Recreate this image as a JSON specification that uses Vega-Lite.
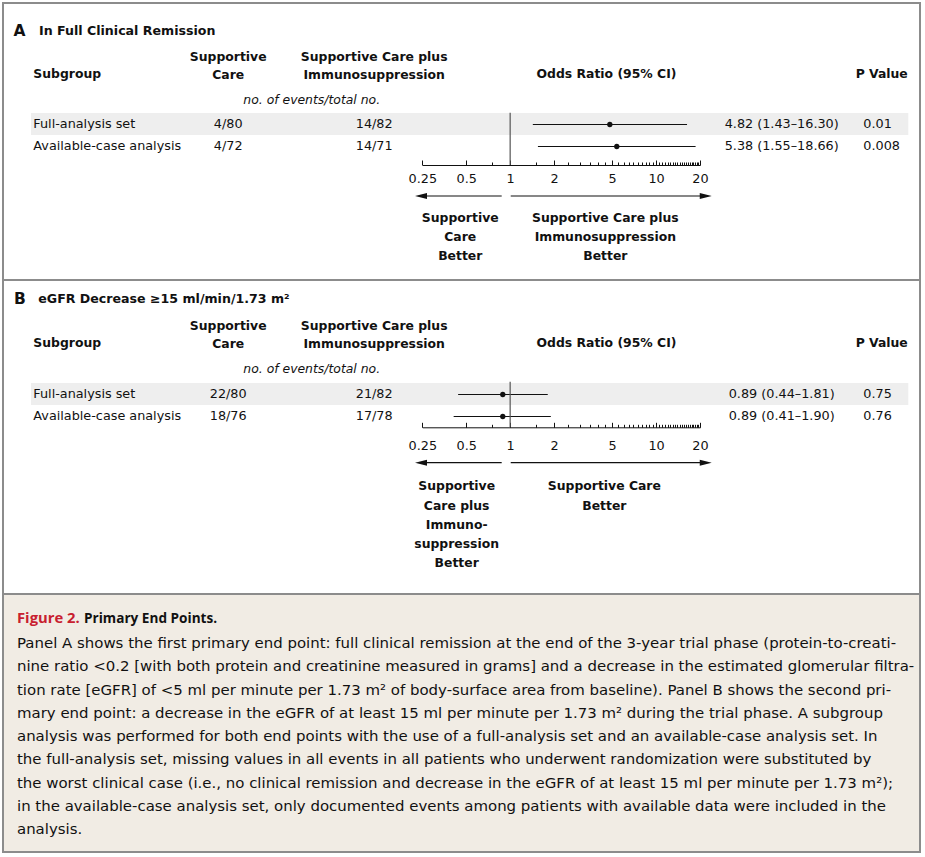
{
  "$schema": "https://vega.github.io/schema/vega-lite/v6.json",
  "padding": {"left": 2, "top": 2, "right": 2, "bottom": 2},
  "background": "white",
  "spacing": 0,
  "bounds": "flush",
  "config": {
    "view": {"stroke": "#8c8c8c", "strokeWidth": 2},
    "text": {"font": "DejaVu Sans", "fontSize": 12.8, "color": "#111111"}
  },
  "datasets": {
    "results": [
      {"panel": "A", "subgroup": "Full-analysis set", "sc": "4/80", "sci": "14/82", "or": 4.82, "lo": 1.43, "hi": 16.30, "ci": "4.82 (1.43–16.30)", "p": "0.01"},
      {"panel": "A", "subgroup": "Available-case analysis", "sc": "4/72", "sci": "14/71", "or": 5.38, "lo": 1.55, "hi": 18.66, "ci": "5.38 (1.55–18.66)", "p": "0.008"},
      {"panel": "B", "subgroup": "Full-analysis set", "sc": "22/80", "sci": "21/82", "or": 0.89, "lo": 0.44, "hi": 1.81, "ci": "0.89 (0.44–1.81)", "p": "0.75"},
      {"panel": "B", "subgroup": "Available-case analysis", "sc": "18/76", "sci": "17/78", "or": 0.89, "lo": 0.41, "hi": 1.90, "ci": "0.89 (0.41–1.90)", "p": "0.76"}
    ],
    "labels": [
      {"panel": "A", "role": "letter", "text": "A"},
      {"panel": "A", "role": "title", "text": "In Full Clinical Remission"},
      {"panel": "A", "role": "head_subgroup", "text": "Subgroup"},
      {"panel": "A", "role": "head_sc", "text": ["Supportive", "Care"]},
      {"panel": "A", "role": "head_sci", "text": ["Supportive Care plus", "Immunosuppression"]},
      {"panel": "A", "role": "head_or", "text": "Odds Ratio (95% CI)"},
      {"panel": "A", "role": "head_p", "text": "P Value"},
      {"panel": "A", "role": "note", "text": "no. of events/total no."},
      {"panel": "A", "role": "better_left", "text": ["Supportive", "Care", "Better"]},
      {"panel": "A", "role": "better_right", "text": ["Supportive Care plus", "Immunosuppression", "Better"]},
      {"panel": "B", "role": "letter", "text": "B"},
      {"panel": "B", "role": "title", "text": "eGFR Decrease ≥15 ml/min/1.73 m²"},
      {"panel": "B", "role": "head_subgroup", "text": "Subgroup"},
      {"panel": "B", "role": "head_sc", "text": ["Supportive", "Care"]},
      {"panel": "B", "role": "head_sci", "text": ["Supportive Care plus", "Immunosuppression"]},
      {"panel": "B", "role": "head_or", "text": "Odds Ratio (95% CI)"},
      {"panel": "B", "role": "head_p", "text": "P Value"},
      {"panel": "B", "role": "note", "text": "no. of events/total no."},
      {"panel": "B", "role": "better_left", "text": ["Supportive", "Care plus", "Immuno-", "suppression", "Better"]},
      {"panel": "B", "role": "better_right", "text": ["Supportive Care", "Better"]},
      {"panel": "C", "role": "fig", "text": "Figure 2."},
      {"panel": "C", "role": "cap_title", "text": "Primary End Points."},
      {"panel": "C", "role": "body", "text": [
        "Panel A shows the first primary end point: full clinical remission at the end of the 3-year trial phase (protein-to-creati-",
        "nine ratio <0.2 [with both protein and creatinine measured in grams] and a decrease in the estimated glomerular filtra-",
        "tion rate [eGFR] of <5 ml per minute per 1.73 m² of body-surface area from baseline). Panel B shows the second pri-",
        "mary end point: a decrease in the eGFR of at least 15 ml per minute per 1.73 m² during the trial phase. A subgroup",
        "analysis was performed for both end points with the use of a full-analysis set and an available-case analysis set. In",
        "the full-analysis set, missing values in all events in all patients who underwent randomization were substituted by",
        "the worst clinical case (i.e., no clinical remission and decrease in the eGFR of at least 15 ml per minute per 1.73 m²);",
        "in the available-case analysis set, only documented events among patients with available data were included in the",
        "analysis."
      ]}
    ]
  },
  "vconcat": [
    {
      "width": 917, "height": 277,
      "resolve": {"scale": {"x": "independent", "y": "independent"}},
      "layer": [
        {
          "data": {"name": "results"},
          "transform": [{"filter": "datum.panel === 'A'"}],
          "encoding": {"y": {"field": "subgroup", "type": "nominal", "sort": null, "scale": {"domain": ["Full-analysis set", "Available-case analysis"], "range": [110, 154], "paddingInner": 0, "paddingOuter": 0}, "axis": null}},
          "layer": [
            {"transform": [{"filter": "datum.subgroup === 'Full-analysis set'"}], "mark": {"type": "rect", "color": "#eeeeee"}, "encoding": {"x": {"datum": 2, "type": "quantitative", "scale": {"type": "linear", "domain": [1,2,3,4,5,6,7,8,9,10,11,12], "range": [10.5,28,30.3,36,225.2,308.7,371.2,603.5,778.7,860.3,878.7,905.3], "nice": false, "zero": false}, "axis": null}, "x2": {"datum": 12}}},
            {"mark": {"type": "text", "align": "left"}, "encoding": {"x": {"datum": 3, "type": "quantitative", "axis": null}, "text": {"field": "subgroup"}}},
            {"mark": {"type": "text", "align": "center"}, "encoding": {"x": {"datum": 5, "type": "quantitative", "axis": null}, "text": {"field": "sc"}}},
            {"mark": {"type": "text", "align": "center"}, "encoding": {"x": {"datum": 7, "type": "quantitative", "axis": null}, "text": {"field": "sci"}}},
            {"mark": {"type": "text", "align": "center"}, "encoding": {"x": {"datum": 9, "type": "quantitative", "axis": null}, "text": {"field": "ci"}}},
            {"mark": {"type": "text", "align": "left"}, "encoding": {"x": {"datum": 10, "type": "quantitative", "axis": null}, "text": {"field": "p"}}}
          ]
        },
        {
          "data": {"name": "results"},
          "transform": [{"filter": "datum.panel === 'A'"}],
          "encoding": {"y": {"field": "subgroup", "type": "nominal", "sort": null, "scale": {"domain": ["Full-analysis set", "Available-case analysis"], "range": [110.5, 154.5], "paddingInner": 0, "paddingOuter": 0}, "axis": null}},
          "layer": [
            {"mark": {"type": "rule", "color": "#111111", "strokeWidth": 1}, "encoding": {"x": {"field": "lo", "type": "quantitative", "scale": {"type": "log", "domain": [0.25, 20], "range": [419.3, 697], "nice": false}, "axis": {"orient": "bottom", "offset": -115, "values": [0.25, 0.5, 1, 2, 5, 10, 20], "format": "~g", "tickSize": -5, "labelPadding": 12, "domainColor": "#111111", "domainWidth": 1, "tickColor": "#111111", "tickWidth": 1, "labelColor": "#111111", "labelFont": "DejaVu Sans", "labelFontSize": 12.8, "labelFlush": false, "labelOverlap": false, "labelBound": false, "grid": false, "title": null}}, "x2": {"field": "hi"}}},
            {"mark": {"type": "point", "shape": "circle", "filled": true, "size": 28, "color": "#111111", "opacity": 1}, "encoding": {"x": {"field": "or", "type": "quantitative"}}}
          ]
        },
        {
          "data": {"name": "labels"},
          "transform": [{"filter": "datum.panel === 'A'"}],
          "encoding": {
            "y": {"datum": 1, "type": "quantitative", "scale": {"type": "linear", "domain": [1,2,3,4,5,6,7,8], "range": [27.7,47.5,71,97,109.7,162,193,208.6], "nice": false, "zero": false}, "axis": null},
            "x": {"datum": 1, "type": "quantitative", "scale": {"type": "linear", "domain": [1,2,3,4,5,6,7,8,9,10,11,12], "range": [10.5,28,30.3,36,225.2,308.7,371.2,603.5,778.7,860.3,878.7,905.3], "nice": false, "zero": false}, "axis": null},
            "text": {"field": "text"}
          },
          "layer": [
            {"transform": [{"filter": "datum.role === 'letter'"}], "mark": {"type": "text", "align": "left", "fontWeight": "bold", "fontSize": 15.5}},
            {"transform": [{"filter": "datum.role === 'title'"}], "mark": {"type": "text", "align": "left", "fontWeight": "bold", "fontSize": 12.6}, "encoding": {"x": {"datum": 4, "type": "quantitative", "axis": null}}},
            {"transform": [{"filter": "datum.role === 'head_subgroup'"}], "mark": {"type": "text", "align": "left", "fontWeight": "bold", "fontSize": 12.4}, "encoding": {"x": {"datum": 3, "type": "quantitative", "axis": null}, "y": {"datum": 3, "type": "quantitative", "axis": null}}},
            {"transform": [{"filter": "datum.role === 'head_sc'"}], "mark": {"type": "text", "align": "center", "baseline": "top", "lineHeight": 18, "fontWeight": "bold", "fontSize": 12.4}, "encoding": {"x": {"datum": 5, "type": "quantitative", "axis": null}, "y": {"datum": 2, "type": "quantitative", "axis": null}}},
            {"transform": [{"filter": "datum.role === 'head_sci'"}], "mark": {"type": "text", "align": "center", "baseline": "top", "lineHeight": 18, "fontWeight": "bold", "fontSize": 12.4}, "encoding": {"x": {"datum": 7, "type": "quantitative", "axis": null}, "y": {"datum": 2, "type": "quantitative", "axis": null}}},
            {"transform": [{"filter": "datum.role === 'head_or'"}], "mark": {"type": "text", "align": "center", "fontWeight": "bold", "fontSize": 12.4}, "encoding": {"x": {"datum": 8, "type": "quantitative", "axis": null}, "y": {"datum": 3, "type": "quantitative", "axis": null}}},
            {"transform": [{"filter": "datum.role === 'head_p'"}], "mark": {"type": "text", "align": "center", "fontWeight": "bold", "fontSize": 12.4}, "encoding": {"x": {"datum": 11, "type": "quantitative", "axis": null}, "y": {"datum": 3, "type": "quantitative", "axis": null}}},
            {"transform": [{"filter": "datum.role === 'note'"}], "mark": {"type": "text", "align": "center", "fontStyle": "italic", "fontSize": 12.4}, "encoding": {"x": {"datum": 6, "type": "quantitative", "axis": null}, "y": {"datum": 4, "type": "quantitative", "axis": null}}}
          ]
        },
        {
          "data": {"values": [{}]},
          "encoding": {
            "x": {"datum": 1, "type": "quantitative", "scale": {"type": "log", "domain": [0.25, 20], "range": [419.3, 697], "nice": false}, "axis": {"orient": "bottom", "offset": -115, "values": [0.75,1.5,2.5,3,3.5,4,4.5,5.5,6,6.5,7,7.5,8,8.5,9,9.5,10.5,11,11.5,12,12.5,13,13.5,14,14.5,15,15.5,16,16.5,17,17.5,18,18.5,19,19.5], "tickSize": -3, "labels": false, "domain": false, "grid": false, "title": null, "tickColor": "#111111", "tickWidth": 1}},
            "y": {"datum": 7, "type": "quantitative", "scale": {"type": "linear", "domain": [1,2,3,4,5,6,7,8], "range": [27.7,47.5,71,97,109.7,162,193,208.6], "nice": false, "zero": false}, "axis": null}
          },
          "layer": [
            {"mark": {"type": "rule", "color": "#555555", "strokeWidth": 1.2}, "encoding": {"y": {"datum": 5, "type": "quantitative", "axis": null}, "y2": {"datum": 6}}},
            {"mark": {"type": "rule", "color": "#111111", "strokeWidth": 1.2}, "encoding": {"x": {"datum": 0.875, "type": "quantitative"}, "x2": {"datum": 0.245}}},
            {"mark": {"type": "rule", "color": "#111111", "strokeWidth": 1.2}, "encoding": {"x": {"datum": 1.009, "type": "quantitative"}, "x2": {"datum": 21.9}}},
            {"mark": {"type": "point", "shape": "M-1,0L1,-0.5L1,0.5Z", "filled": true, "size": 144, "color": "#111111", "opacity": 1}, "encoding": {"x": {"datum": 0.245, "type": "quantitative"}}},
            {"mark": {"type": "point", "shape": "M1,0L-1,-0.5L-1,0.5Z", "filled": true, "size": 144, "color": "#111111", "opacity": 1}, "encoding": {"x": {"datum": 21.9, "type": "quantitative"}}},
            {"data": {"name": "labels"}, "transform": [{"filter": "datum.panel === 'A' && datum.role === 'better_left'"}], "mark": {"type": "text", "align": "center", "baseline": "top", "lineHeight": 19.3, "fontWeight": "bold", "fontSize": 12.4}, "encoding": {"x": {"datum": 0.455, "type": "quantitative"}, "y": {"datum": 8, "type": "quantitative", "axis": null}, "text": {"field": "text"}}},
            {"data": {"name": "labels"}, "transform": [{"filter": "datum.panel === 'A' && datum.role === 'better_right'"}], "mark": {"type": "text", "align": "center", "baseline": "top", "lineHeight": 19.3, "fontWeight": "bold", "fontSize": 12.4}, "encoding": {"x": {"datum": 4.49, "type": "quantitative"}, "y": {"datum": 8, "type": "quantitative", "axis": null}, "text": {"field": "text"}}}
          ]
        }
      ]
    },
    {
      "width": 917, "height": 314,
      "resolve": {"scale": {"x": "independent", "y": "independent"}},
      "layer": [
        {
          "data": {"name": "results"},
          "transform": [{"filter": "datum.panel === 'B'"}],
          "encoding": {"y": {"field": "subgroup", "type": "nominal", "sort": null, "scale": {"domain": ["Full-analysis set", "Available-case analysis"], "range": [103, 147], "paddingInner": 0, "paddingOuter": 0}, "axis": null}},
          "layer": [
            {"transform": [{"filter": "datum.subgroup === 'Full-analysis set'"}], "mark": {"type": "rect", "color": "#eeeeee"}, "encoding": {"x": {"datum": 2, "type": "quantitative", "scale": {"type": "linear", "domain": [1,2,3,4,5,6,7,8,9,10,11,12], "range": [11,28,30.3,35.3,225.2,308.7,371.2,603.5,778.7,860.3,878.7,905.3], "nice": false, "zero": false}, "axis": null}, "x2": {"datum": 12}}},
            {"mark": {"type": "text", "align": "left"}, "encoding": {"x": {"datum": 3, "type": "quantitative", "axis": null}, "text": {"field": "subgroup"}}},
            {"mark": {"type": "text", "align": "center"}, "encoding": {"x": {"datum": 5, "type": "quantitative", "axis": null}, "text": {"field": "sc"}}},
            {"mark": {"type": "text", "align": "center"}, "encoding": {"x": {"datum": 7, "type": "quantitative", "axis": null}, "text": {"field": "sci"}}},
            {"mark": {"type": "text", "align": "center"}, "encoding": {"x": {"datum": 9, "type": "quantitative", "axis": null}, "text": {"field": "ci"}}},
            {"mark": {"type": "text", "align": "left"}, "encoding": {"x": {"datum": 10, "type": "quantitative", "axis": null}, "text": {"field": "p"}}}
          ]
        },
        {
          "data": {"name": "results"},
          "transform": [{"filter": "datum.panel === 'B'"}],
          "encoding": {"y": {"field": "subgroup", "type": "nominal", "sort": null, "scale": {"domain": ["Full-analysis set", "Available-case analysis"], "range": [103.5, 147.5], "paddingInner": 0, "paddingOuter": 0}, "axis": null}},
          "layer": [
            {"mark": {"type": "rule", "color": "#111111", "strokeWidth": 1}, "encoding": {"x": {"field": "lo", "type": "quantitative", "scale": {"type": "log", "domain": [0.25, 20], "range": [419.3, 697], "nice": false}, "axis": {"orient": "bottom", "offset": -166.7, "values": [0.25, 0.5, 1, 2, 5, 10, 20], "format": "~g", "tickSize": -5, "labelPadding": 17.2, "domainColor": "#111111", "domainWidth": 1, "tickColor": "#111111", "tickWidth": 1, "labelColor": "#111111", "labelFont": "DejaVu Sans", "labelFontSize": 12.8, "labelFlush": false, "labelOverlap": false, "labelBound": false, "grid": false, "title": null}}, "x2": {"field": "hi"}}},
            {"mark": {"type": "point", "shape": "circle", "filled": true, "size": 28, "color": "#111111", "opacity": 1}, "encoding": {"x": {"field": "or", "type": "quantitative"}}}
          ]
        },
        {
          "data": {"name": "labels"},
          "transform": [{"filter": "datum.panel === 'B'"}],
          "encoding": {
            "y": {"datum": 1, "type": "quantitative", "scale": {"type": "linear", "domain": [1,2,3,4,5,6,7,8], "range": [19,39.5,63.3,89.3,101.7,147.3,182.7,200.3], "nice": false, "zero": false}, "axis": null},
            "x": {"datum": 1, "type": "quantitative", "scale": {"type": "linear", "domain": [1,2,3,4,5,6,7,8,9,10,11,12], "range": [11,28,30.3,35.3,225.2,308.7,371.2,603.5,778.7,860.3,878.7,905.3], "nice": false, "zero": false}, "axis": null},
            "text": {"field": "text"}
          },
          "layer": [
            {"transform": [{"filter": "datum.role === 'letter'"}], "mark": {"type": "text", "align": "left", "fontWeight": "bold", "fontSize": 15.5}},
            {"transform": [{"filter": "datum.role === 'title'"}], "mark": {"type": "text", "align": "left", "fontWeight": "bold", "fontSize": 12.6}, "encoding": {"x": {"datum": 4, "type": "quantitative", "axis": null}}},
            {"transform": [{"filter": "datum.role === 'head_subgroup'"}], "mark": {"type": "text", "align": "left", "fontWeight": "bold", "fontSize": 12.4}, "encoding": {"x": {"datum": 3, "type": "quantitative", "axis": null}, "y": {"datum": 3, "type": "quantitative", "axis": null}}},
            {"transform": [{"filter": "datum.role === 'head_sc'"}], "mark": {"type": "text", "align": "center", "baseline": "top", "lineHeight": 18.3, "fontWeight": "bold", "fontSize": 12.4}, "encoding": {"x": {"datum": 5, "type": "quantitative", "axis": null}, "y": {"datum": 2, "type": "quantitative", "axis": null}}},
            {"transform": [{"filter": "datum.role === 'head_sci'"}], "mark": {"type": "text", "align": "center", "baseline": "top", "lineHeight": 18.3, "fontWeight": "bold", "fontSize": 12.4}, "encoding": {"x": {"datum": 7, "type": "quantitative", "axis": null}, "y": {"datum": 2, "type": "quantitative", "axis": null}}},
            {"transform": [{"filter": "datum.role === 'head_or'"}], "mark": {"type": "text", "align": "center", "fontWeight": "bold", "fontSize": 12.4}, "encoding": {"x": {"datum": 8, "type": "quantitative", "axis": null}, "y": {"datum": 3, "type": "quantitative", "axis": null}}},
            {"transform": [{"filter": "datum.role === 'head_p'"}], "mark": {"type": "text", "align": "center", "fontWeight": "bold", "fontSize": 12.4}, "encoding": {"x": {"datum": 11, "type": "quantitative", "axis": null}, "y": {"datum": 3, "type": "quantitative", "axis": null}}},
            {"transform": [{"filter": "datum.role === 'note'"}], "mark": {"type": "text", "align": "center", "fontStyle": "italic", "fontSize": 12.4}, "encoding": {"x": {"datum": 6, "type": "quantitative", "axis": null}, "y": {"datum": 4, "type": "quantitative", "axis": null}}}
          ]
        },
        {
          "data": {"values": [{}]},
          "encoding": {
            "x": {"datum": 1, "type": "quantitative", "scale": {"type": "log", "domain": [0.25, 20], "range": [419.3, 697], "nice": false}, "axis": {"orient": "bottom", "offset": -166.7, "values": [0.75,1.5,2.5,3,3.5,4,4.5,5.5,6,6.5,7,7.5,8,8.5,9,9.5,10.5,11,11.5,12,12.5,13,13.5,14,14.5,15,15.5,16,16.5,17,17.5,18,18.5,19,19.5], "tickSize": -3, "labels": false, "domain": false, "grid": false, "title": null, "tickColor": "#111111", "tickWidth": 1}},
            "y": {"datum": 7, "type": "quantitative", "scale": {"type": "linear", "domain": [1,2,3,4,5,6,7,8], "range": [19,39.5,63.3,89.3,101.7,147.3,182.7,200.3], "nice": false, "zero": false}, "axis": null}
          },
          "layer": [
            {"mark": {"type": "rule", "color": "#555555", "strokeWidth": 1.2}, "encoding": {"y": {"datum": 5, "type": "quantitative", "axis": null}, "y2": {"datum": 6}}},
            {"mark": {"type": "rule", "color": "#111111", "strokeWidth": 1.2}, "encoding": {"x": {"datum": 0.875, "type": "quantitative"}, "x2": {"datum": 0.245}}},
            {"mark": {"type": "rule", "color": "#111111", "strokeWidth": 1.2}, "encoding": {"x": {"datum": 1.009, "type": "quantitative"}, "x2": {"datum": 21.9}}},
            {"mark": {"type": "point", "shape": "M-1,0L1,-0.5L1,0.5Z", "filled": true, "size": 144, "color": "#111111", "opacity": 1}, "encoding": {"x": {"datum": 0.245, "type": "quantitative"}}},
            {"mark": {"type": "point", "shape": "M1,0L-1,-0.5L-1,0.5Z", "filled": true, "size": 144, "color": "#111111", "opacity": 1}, "encoding": {"x": {"datum": 21.9, "type": "quantitative"}}},
            {"data": {"name": "labels"}, "transform": [{"filter": "datum.panel === 'B' && datum.role === 'better_left'"}], "mark": {"type": "text", "align": "center", "baseline": "top", "lineHeight": 19.3, "fontWeight": "bold", "fontSize": 12.4}, "encoding": {"x": {"datum": 0.430, "type": "quantitative"}, "y": {"datum": 8, "type": "quantitative", "axis": null}, "text": {"field": "text"}}},
            {"data": {"name": "labels"}, "transform": [{"filter": "datum.panel === 'B' && datum.role === 'better_right'"}], "mark": {"type": "text", "align": "center", "baseline": "top", "lineHeight": 19.3, "fontWeight": "bold", "fontSize": 12.4}, "encoding": {"x": {"datum": 4.42, "type": "quantitative"}, "y": {"datum": 8, "type": "quantitative", "axis": null}, "text": {"field": "text"}}}
          ]
        }
      ]
    },
    {
      "width": 917, "height": 258,
      "view": {"fill": "#f1ece4", "stroke": "#8c8c8c", "strokeWidth": 2},
      "data": {"name": "labels"},
      "transform": [{"filter": "datum.panel === 'C'"}],
      "encoding": {
        "x": {"datum": 1, "type": "quantitative", "scale": {"type": "linear", "domain": [1, 2], "range": [14, 81], "nice": false, "zero": false}, "axis": null},
        "y": {"datum": 1, "type": "quantitative", "scale": {"type": "linear", "domain": [1, 2], "range": [24.5, 42], "nice": false, "zero": false}, "axis": null},
        "text": {"field": "text"}
      },
      "layer": [
        {"transform": [{"filter": "datum.role === 'fig'"}], "mark": {"type": "text", "align": "left", "font": "Open Sans", "fontWeight": "bold", "fontSize": 14.8, "color": "#c8202f"}},
        {"transform": [{"filter": "datum.role === 'cap_title'"}], "mark": {"type": "text", "align": "left", "font": "Open Sans", "fontWeight": "bold", "fontSize": 13.6, "color": "#111111"}, "encoding": {"x": {"datum": 2, "type": "quantitative", "axis": null}}},
        {"transform": [{"filter": "datum.role === 'body'"}], "mark": {"type": "text", "align": "left", "baseline": "top", "lineHeight": 23.25, "font": "DejaVu Sans", "fontSize": 14.95, "color": "#111111"}, "encoding": {"y": {"datum": 2, "type": "quantitative", "axis": null}}}
      ]
    }
  ]
}
